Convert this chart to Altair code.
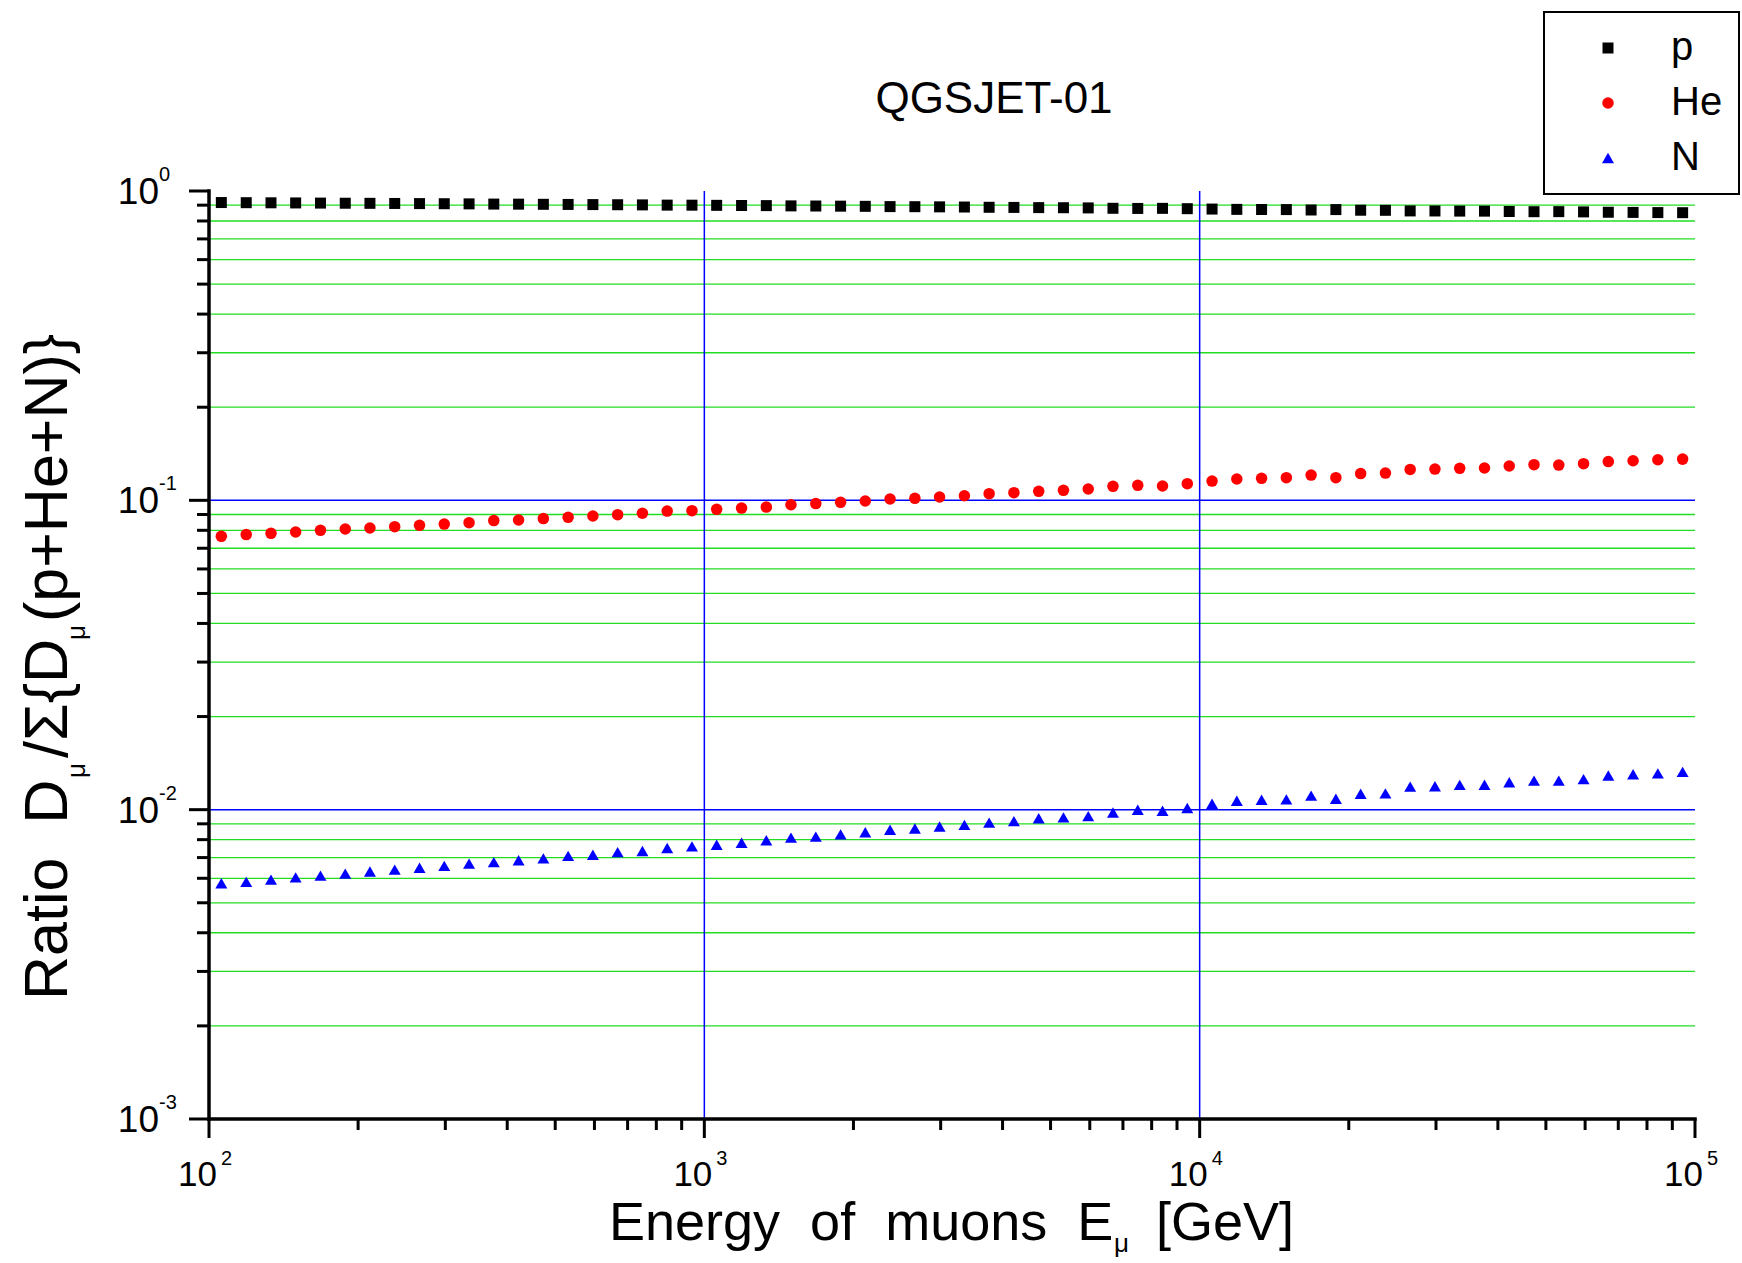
import altair as alt
import pandas as pd

FONT = "Liberation Sans, Arial, Helvetica, sans-serif"

# ---------------- data ----------------
energy = [105.9, 118.9, 133.4, 149.6, 167.9, 188.4, 211.3, 237.1, 266.1, 298.5,
          335.0, 375.8, 421.7, 473.2, 530.9, 595.7, 668.3, 749.9, 841.4, 944.1,
          1059, 1189, 1334, 1496, 1679, 1884, 2113, 2371, 2661, 2985,
          3350, 3758, 4217, 4732, 5309, 5957, 6683, 7499, 8414, 9441,
          10593, 11885, 13335, 14962, 16788, 18836, 21135, 23714, 26607, 29854,
          33497, 37584, 42170, 47315, 53088, 59566, 66834, 74989, 84140, 94406]

ratio_p = [0.9177, 0.9167, 0.9159, 0.9150, 0.9139, 0.9130, 0.9123, 0.9114, 0.9105, 0.9096,
           0.9086, 0.9072, 0.9067, 0.9057, 0.9048, 0.9038, 0.9028, 0.9018, 0.9002, 0.8998,
           0.8988, 0.8978, 0.8969, 0.8951, 0.8942, 0.8932, 0.8921, 0.8904, 0.8898, 0.8887,
           0.8876, 0.8858, 0.8849, 0.8837, 0.8829, 0.8817, 0.8792, 0.8782, 0.8788, 0.8767,
           0.8742, 0.8721, 0.8714, 0.8708, 0.8682, 0.8708, 0.8667, 0.8662, 0.8622, 0.8619,
           0.8611, 0.8608, 0.8586, 0.8572, 0.8576, 0.8560, 0.8537, 0.8527, 0.8516, 0.8509]

ratio_he = [0.0765, 0.0775, 0.0782, 0.0790, 0.0800, 0.0808, 0.0814, 0.0822, 0.0830, 0.0838,
            0.0847, 0.0860, 0.0864, 0.0873, 0.0881, 0.0890, 0.0899, 0.0908, 0.0923, 0.0926,
            0.0935, 0.0944, 0.0951, 0.0968, 0.0976, 0.0985, 0.0995, 0.1010, 0.1015, 0.1025,
            0.1035, 0.1051, 0.1059, 0.1069, 0.1077, 0.1088, 0.1110, 0.1118, 0.1113, 0.1132,
            0.1154, 0.1172, 0.1178, 0.1184, 0.1207, 0.1184, 0.1220, 0.1225, 0.1259, 0.1262,
            0.1269, 0.1272, 0.1291, 0.1304, 0.1300, 0.1314, 0.1334, 0.1343, 0.1353, 0.1359]

ratio_n = [0.00578, 0.00584, 0.00594, 0.00604, 0.00612, 0.00621, 0.00631, 0.00640, 0.00649, 0.00658,
           0.00669, 0.00677, 0.00686, 0.00696, 0.00709, 0.00715, 0.00729, 0.00735, 0.00752, 0.00761,
           0.00770, 0.00782, 0.00796, 0.00812, 0.00818, 0.00832, 0.00845, 0.00861, 0.00869, 0.00882,
           0.00893, 0.00908, 0.00918, 0.00938, 0.00944, 0.00953, 0.00979, 0.00999, 0.00992, 0.01013,
           0.01045, 0.01069, 0.01077, 0.01080, 0.01110, 0.01085, 0.01126, 0.01129, 0.01187, 0.01191,
           0.01203, 0.01204, 0.01227, 0.01241, 0.01241, 0.01255, 0.01289, 0.01302, 0.01310, 0.01325]

series_names = ["p", "He", "N"]
series_colors = ["#000000", "#ff0000", "#0000ff"]
series_shapes = ["square", "circle", "triangle-up"]
series_sizes = [121, 144, 210]

x_major = [100, 1000, 10000, 100000]
x_major_exp = ["2", "3", "4", "5"]
x_minor = [200, 300, 400, 500, 600, 700, 800, 900,
           2000, 3000, 4000, 5000, 6000, 7000, 8000, 9000,
           20000, 30000, 40000, 50000, 60000, 70000, 80000, 90000]
y_major = [1, 0.1, 0.01, 0.001]
y_major_exp = ["0", "-1", "-2", "-3"]
y_minor = [0.9, 0.8, 0.7, 0.6, 0.5, 0.4, 0.3, 0.2,
           0.09, 0.08, 0.07, 0.06, 0.05, 0.04, 0.03, 0.02,
           0.009, 0.008, 0.007, 0.006, 0.005, 0.004, 0.003, 0.002]
x_blue_grid = [1000, 10000]
y_blue_grid = [0.1, 0.01]

# ---------------- layout ----------------
W, H = 1486, 928
xscale = alt.Scale(type="log", domain=[100, 100000], nice=False)
yscale = alt.Scale(type="log", domain=[0.001, 1], nice=False)

df = pd.DataFrame({
    "energy": energy * 3,
    "ratio": ratio_p + ratio_he + ratio_n,
    "series": ["p"] * len(ratio_p) + ["He"] * len(ratio_he) + ["N"] * len(ratio_n),
})

one = alt.Data(values=[{}])

green_grid = alt.Chart(pd.DataFrame({"v": y_minor})).mark_rule(
    color="#22dd22", strokeWidth=1.3
).encode(y=alt.Y("v:Q", scale=yscale, axis=None), x=alt.value(0), x2=alt.value(W))

blue_grid_y = alt.Chart(pd.DataFrame({"v": y_blue_grid})).mark_rule(
    color="#0000ff", strokeWidth=1.5
).encode(y=alt.Y("v:Q", scale=yscale, axis=None), x=alt.value(0), x2=alt.value(W))

blue_grid_x = alt.Chart(pd.DataFrame({"v": x_blue_grid})).mark_rule(
    color="#0000ff", strokeWidth=1.5
).encode(x=alt.X("v:Q", scale=xscale, axis=None), y=alt.value(0), y2=alt.value(H))

# axis lines and ticks
y_domain = alt.Chart(one).mark_rule(color="black", strokeWidth=3.5, strokeCap="square").encode(
    x=alt.value(0), y=alt.value(0), y2=alt.value(H))
x_domain = alt.Chart(one).mark_rule(color="black", strokeWidth=3.5, strokeCap="square").encode(
    y=alt.value(H), x=alt.value(0), x2=alt.value(W))

major_y = alt.Chart(pd.DataFrame({"v": y_major})).mark_rule(color="black", strokeWidth=3).encode(
    y=alt.Y("v:Q", scale=yscale, axis=None), x=alt.value(-20), x2=alt.value(0))
minor_y = alt.Chart(pd.DataFrame({"v": y_minor})).mark_rule(color="black", strokeWidth=3).encode(
    y=alt.Y("v:Q", scale=yscale, axis=None), x=alt.value(-12), x2=alt.value(0))
major_x = alt.Chart(pd.DataFrame({"v": x_major})).mark_rule(color="black", strokeWidth=3).encode(
    x=alt.X("v:Q", scale=xscale, axis=None), y=alt.value(H), y2=alt.value(H + 19))
minor_x = alt.Chart(pd.DataFrame({"v": x_minor})).mark_rule(color="black", strokeWidth=3).encode(
    x=alt.X("v:Q", scale=xscale, axis=None), y=alt.value(H), y2=alt.value(H + 11))

points = alt.Chart(df).mark_point(filled=True, opacity=1, strokeWidth=0).encode(
    x=alt.X("energy:Q", scale=xscale, axis=None),
    y=alt.Y("ratio:Q", scale=yscale, axis=None),
    color=alt.Color("series:N", scale=alt.Scale(domain=series_names, range=series_colors),
                    legend=alt.Legend(orient="none", legendX=1335, legendY=-179, title=None,
                                      labelFontSize=40, labelFont=FONT, labelColor="black",
                                      symbolOffset=28, labelOffset=43, padding=16,
                                      rowPadding=15, strokeColor="black", fillColor="white",
                                      symbolStrokeWidth=0)),
    shape=alt.Shape("series:N", scale=alt.Scale(domain=series_names, range=series_shapes)),
    size=alt.Size("series:N", scale=alt.Scale(domain=series_names, range=series_sizes)),
)

xl = pd.DataFrame({"v": x_major, "e": x_major_exp})
yl = pd.DataFrame({"v": y_major, "e": y_major_exp})

x_lab10 = alt.Chart(xl).mark_text(text="10", align="right", baseline="alphabetic", dx=8,
                                  fontSize=35, font=FONT, color="black").encode(
    x=alt.X("v:Q", scale=xscale, axis=None), y=alt.value(H + 67))
x_labexp = alt.Chart(xl).mark_text(align="left", baseline="alphabetic", dx=12,
                                   fontSize=20, font=FONT, color="black").encode(
    x=alt.X("v:Q", scale=xscale, axis=None), y=alt.value(H + 46), text="e:N")

y_lab10 = alt.Chart(yl).mark_text(text="10", align="right", baseline="alphabetic", dy=13,
                                  fontSize=37, font=FONT, color="black").encode(
    y=alt.Y("v:Q", scale=yscale, axis=None), x=alt.value(-50))
y_labexp = alt.Chart(yl).mark_text(align="left", baseline="alphabetic", dy=-10,
                                   fontSize=20, font=FONT, color="black").encode(
    y=alt.Y("v:Q", scale=yscale, axis=None), x=alt.value(-50), text="e:N")


def txt(text, x, y, size, angle=0, align="left"):
    return alt.Chart(one).mark_text(
        text=text, fontSize=size, font=FONT, color="black", align=align,
        baseline="alphabetic", angle=angle
    ).encode(x=alt.value(x), y=alt.value(y))


NB = "\u00a0"
title = txt("QGSJET-01", 785, -78, 44, align="center")
x_title = [
    txt("Energy" + NB * 2 + "of" + NB * 2 + "muons" + NB * 2 + "E", 400, 1049, 54),
    txt("\u03bc", 905, 1061, 26),
    txt("[GeV]", 947, 1049, 54),
]
y_title = [
    txt("Ratio" + NB * 2 + "D", -142, 809, 61, angle=270),
    txt("\u03bc", -124, 587, 26, angle=270),
    txt("/\u03a3{D", -142, 567, 61, angle=270),
    txt("\u03bc", -124, 449, 26, angle=270),
    txt("(p+He+N)}", -142, 431, 61, angle=270),
]

chart = alt.layer(
    green_grid, blue_grid_y, blue_grid_x,
    points,
    y_domain, x_domain, major_y, minor_y, major_x, minor_x,
    x_lab10, x_labexp, y_lab10, y_labexp, title, *x_title, *y_title
).properties(
    width=W, height=H,
    autosize=alt.AutoSizeParams(type="none"),
    padding={"left": 209, "top": 191, "right": 47, "bottom": 144},
).configure_view(stroke=None).configure_legend(strokeWidth=2)

chart.save("out.html", embed_options={"renderer": "svg", "actions": False})
